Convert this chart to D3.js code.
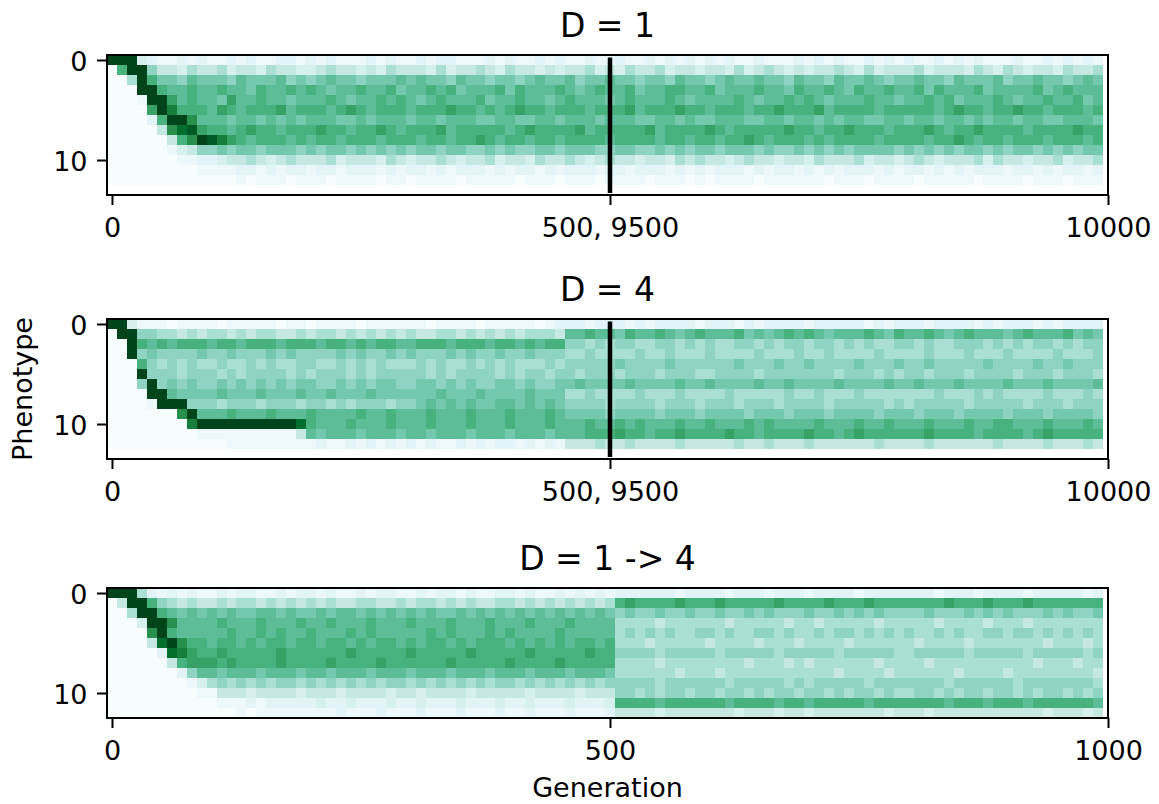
<!DOCTYPE html>
<html>
<head>
<meta charset="utf-8">
<script src="https://cdn.jsdelivr.net/npm/d3@7"></script>
<style>
  html, body { margin: 0; padding: 0; background: #fff; }
</style>
</head>
<body>
<div id="chart"></div>
<script>
// phenotype (row) x generation bin (column) share of the population,
// one hex digit per cell: 0 = nobody, f = everybody. 100 bins per row.
const gridD1 = [
  'fff3211212 1121211221 2121112121 1212211121 2112121121 1211212121 2121121112 1212112121 2112121211 1211212121',
  '09ff644354 4534435443 3454434354 4435344543 5443434453 4354453443 4435345434 3445435344 4534443543 5434435445',
  '005f977687 7768777867 6787767778 7877687767 7678778677 8776776877 6787787768 7768778767 7877687778 6778776787',
  '000ff98898 8988798898 9878898897 8898978889 7988898789 8897889988 9788898879 8898798898 8979888978 8889789888',
  '0001ffa898 87a8898878 8898788989 8789888978 8988789888 7898889878 8889878898 9878889887 8898978889 8788988978',
  '0000afc999 8a98999a89 9989a98999 8999a99898 9a99899989 99a8999a99 8999899a99 9a89999899 99989a9989 9a99899989',
  '000029ffb8 8878878787 8887787888 7887888778 8778878887 8887788787 7888778878 8787887788 7887887878 8788778887',
  '000004bdea 9989a99899 9a99899a98 999a899999 89a9999a89 9999a89999 a9899999a9 9899a99989 99a9899a99 9989999a99',
  '00000049bf eca9899989 8998999899 9899899a98 9989989999 8999989989 9899a98999 8989999899 99899a9899 8999899989',
  '0000001346 6767767776 7677676767 6776776676 7667767776 6776676767 7677767667 6767677776 7676767767 6776767677',
  '0000000112 2344543454 4453444354 3445434453 4435445434 5443443545 4434544344 3544453443 4543444535 4434453445',
  '0000000001 1112212122 1221222121 2212122212 1221212221 2212221212 1222121221 2121222121 2212121222 1221212212',
  '0000000000 0001011101 1101111011 0111101111 1011101110 1111011101 0111101111 1101110111 1011111011 1101110111'
];

const gridD4 = [
  'ff31110111 1011111011 0111101111 1101111011 1110122212 2212122221 2221212222 1222221212 2212222121 2221212222',
  '0ff6655454 5545455445 4554545454 5445545454 5455548898 8798898789 8889787898 9878889879 8898789888 7898889787',
  '00f9898999 8998999899 9899898998 8999899989 9898996656 5665566565 6556656566 5665656556 6565566656 5656656566',
  '00f6766667 6676667676 6667676676 7666767667 6676665565 5556556555 6555565556 5565555655 5565556555 6555565556',
  '0009656565 5655656556 6556565655 5656556565 6555656666 6766667666 6667666766 7666676667 6676666676 6667667666',
  '000f666566 6565666656 5666565666 6656566665 6566566566 6566656665 5666656666 6665666565 6656665666 6566656665',
  '0006f67676 6767676767 7667676776 6776767667 7676677877 7787777877 8777787787 7778777787 7877787777 8777877778',
  '0000ff8777 7877787778 7787778777 7778777877 7787775565 5556555655 5565555565 5655565555 5556555656 5555655565',
  '00001fff66 6566656665 6656566656 6787878778 8787876666 5666656665 6665666566 6656666656 5666665666 6656665666',
  '0000000bf8 8898889888 9888898898 8898889888 9888987777 6777767776 7777677767 7767777677 7677767777 6777677776',
  '00000000cf fffffffffd 9888988898 8898889888 9888988898 8989888988 9888989888 8988898898 8898889889 9888988898',
  '0000000001 1111111114 8788878887 8878887888 7888788899 9a99899a99 99a9989999 a9989a9999 99a9999899 9989a99999',
  '0000000000 0011111111 1211212121 2121121212 2121214445 4454444544 4445445444 5444444544 4454444445 4444544454'
];

const gridD1to4 = [
  'fff5212121 1212211212 2121121221 1212212112 2121121212 1222222122 2212221222 1222212222 2221222122 2212222212',
  '04ff965454 4545545454 5454455445 4554545445 5454545454 59a9999a99 9a99999a99 99a999a999 9999a999a9 99a9999999',
  '005ff98787 8787788787 7878878787 8787787878 7878787878 7676676676 6766767666 7667676766 6676667676 7666767667',
  '0003ffb888 8988898889 8898889888 9888988898 8898889888 8555545555 5545555545 5455555455 5554555545 5545555555',
  '0000bf9888 8898898988 9888989888 8898988898 9888898888 8565656556 6565566565 5656656565 6556565566 5665656565',
  '00004dfb99 8998989989 9899898998 9899898999 8989898998 9555455555 4555545554 5555455555 5455554555 5555455545',
  '000002dca9 9a99999a99 9999a99999 a99999a999 99a99999a9 9666656666 6566666566 6665666665 5666665666 6656666656',
  '00000049aa a9a9999a99 99a9999a99 9999a99999 a9999a9999 9555545555 5555455545 4555555455 5545555555 5554555455',
  '0000000268 8788878887 8878887888 7888788878 8878887888 7555555455 5455555555 5554555545 5555545555 4555555554',
  '0000000013 5656565665 6565656566 5656565656 6565656565 6666656666 6656666656 5666665666 6666566666 6566666665',
  '0000000001 1444344443 4443444434 4344443444 4434444344 4665656656 6566565665 6656566565 5665656656 6565665656',
  '0000000000 0111212222 2322322232 2322232223 2232223222 3999989999 9989999899 8999998999 9999899989 9989999998',
  '0000000000 0001011111 1112111211 1211121112 1121112111 2444434444 4443444344 3444444434 4434444444 4444344434'
];

const panelTitles = ['D = 1', 'D = 4', 'D = 1 -> 4'];
const genTickBins = [0, 50, 100];
const longRunTickLabels = ['0', '500, 9500', '10000'];
const switchTickLabels = ['0', '500', '1000'];
const phenotypeTicks = [0, 10];
const phenotypeExtent = [14, 14, 13];   // rows shown on each y axis
const markerBin = 50;                    // first 500 | last 500 generations

const W = 1159, H = 804;
const fontFamily = '"DejaVu Sans", sans-serif';

const svg = d3.select('#chart').append('svg')
  .attr('width', W)
  .attr('height', H);

svg.append('rect').attr('width', W).attr('height', H).attr('fill', '#fff');

// matplotlib BuGn
const cellColor = d3.scaleLinear()
  .domain(d3.range(9).map(i => i / 8))
  .range(['#f7fcfd', '#e5f5f9', '#ccece6', '#99d8c9', '#66c2a4', '#41ae76', '#238b45', '#006d2c', '#00441b']);

const panels = [
  { title: panelTitles[0], grid: gridD1, labels: longRunTickLabels, rows: phenotypeExtent[0], marker: true, top: 55 },
  { title: panelTitles[1], grid: gridD4, labels: longRunTickLabels, rows: phenotypeExtent[1], marker: true, top: 319 },
  { title: panelTitles[2], grid: gridD1to4, labels: switchTickLabels, rows: phenotypeExtent[2], marker: false, top: 588 }
];

const x = d3.scaleLinear().domain([-0.5, 100]).range([107, 1108]);

panels.forEach(function(p) {
  const y = d3.scaleLinear()
    .domain([-0.5, p.rows - 0.5])
    .range([p.top, p.top + p.rows * 10]);

  const g = svg.append('g');

  const cells = p.grid.flatMap(function(row, r) {
    return row.replace(/ /g, '').split('').map(function(ch, c) {
      return { r: r, c: c, v: parseInt(ch, 16) / 15 };
    });
  });

  g.append('g')
    .attr('shape-rendering', 'crispEdges')
    .selectAll('rect')
    .data(cells)
    .enter().append('rect')
      .attr('x', d => x(d.c - 0.5))
      .attr('y', d => y(d.r - 0.5))
      .attr('width', d => x(d.c + 0.5) - x(d.c - 0.5))
      .attr('height', d => y(d.r + 0.5) - y(d.r - 0.5))
      .attr('fill', d => cellColor(d.v));

  if (p.marker) {
    g.append('line')
      .attr('x1', x(markerBin))
      .attr('x2', x(markerBin))
      .attr('y1', y(-0.25))
      .attr('y2', y(p.rows - 0.7))
      .attr('stroke', '#000')
      .attr('stroke-width', 4.5);
  }

  // frame
  g.append('rect')
    .attr('x', x.range()[0])
    .attr('y', p.top)
    .attr('width', x.range()[1] - x.range()[0])
    .attr('height', p.rows * 10)
    .attr('fill', 'none')
    .attr('stroke', '#000')
    .attr('stroke-width', 2);

  const xAxis = g.append('g')
    .attr('transform', 'translate(0,' + (p.top + p.rows * 10) + ')')
    .call(d3.axisBottom(x)
      .tickValues(genTickBins)
      .tickFormat((d, i) => p.labels[i])
      .tickSize(10)
      .tickPadding(13));

  const yAxis = g.append('g')
    .attr('transform', 'translate(' + x.range()[0] + ',0)')
    .call(d3.axisLeft(y)
      .tickValues(phenotypeTicks)
      .tickSize(10)
      .tickPadding(9.5));

  [xAxis, yAxis].forEach(function(ax) {
    ax.select('.domain').remove();
    ax.attr('font-family', fontFamily).attr('font-size', 27);
    ax.selectAll('line').attr('stroke', '#000').attr('stroke-width', 2);
    ax.selectAll('text').attr('fill', '#000');
  });
  yAxis.selectAll('text').attr('dy', '0.38em');

  g.append('text')
    .attr('x', (x.range()[0] + x.range()[1]) / 2)
    .attr('y', p.top - 18)
    .attr('text-anchor', 'middle')
    .attr('font-family', fontFamily)
    .attr('font-size', 33)
    .attr('fill', '#000')
    .text(p.title);
});

svg.append('text')
  .attr('transform', 'translate(32,389) rotate(-90)')
  .attr('text-anchor', 'middle')
  .attr('font-family', fontFamily)
  .attr('font-size', 27)
  .attr('fill', '#000')
  .text('Phenotype');

svg.append('text')
  .attr('x', 607.5)
  .attr('y', 797)
  .attr('text-anchor', 'middle')
  .attr('font-family', fontFamily)
  .attr('font-size', 27)
  .attr('fill', '#000')
  .text('Generation');
</script>
</body>
</html>
